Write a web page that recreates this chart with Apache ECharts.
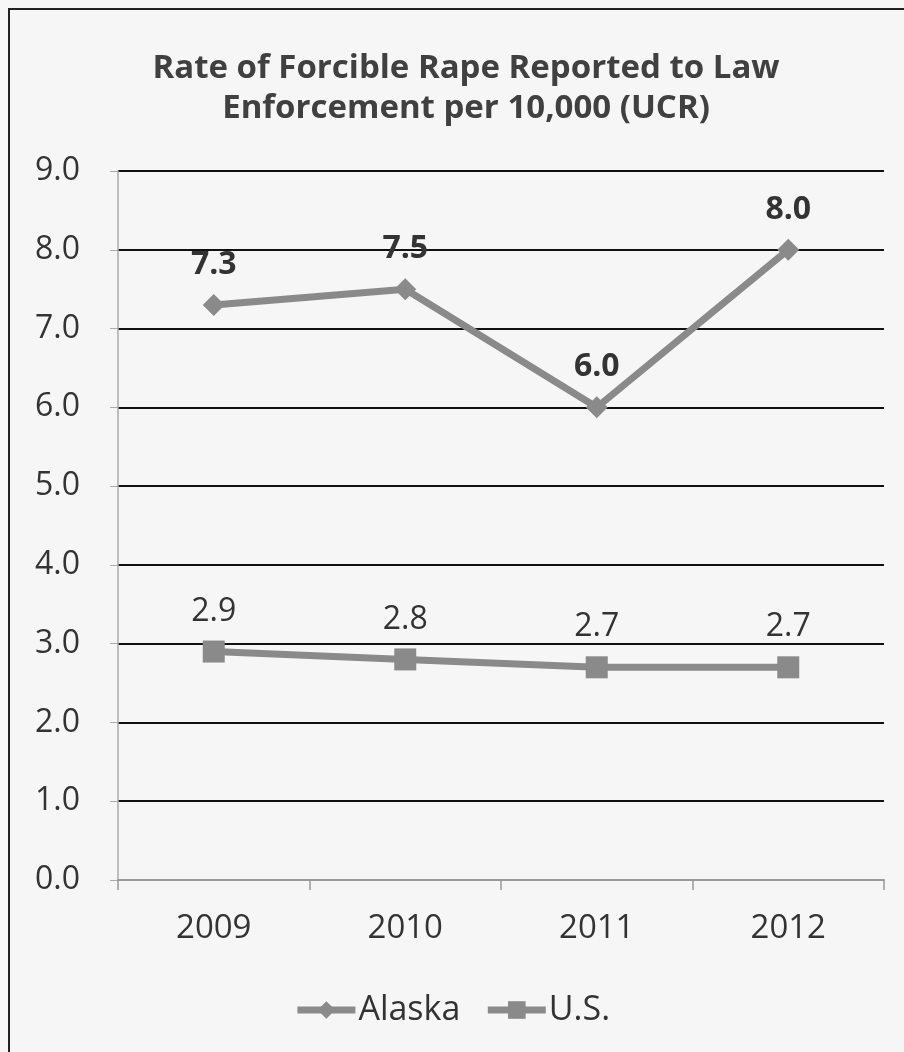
<!DOCTYPE html>
<html><head><meta charset="utf-8">
<script src="https://cdn.jsdelivr.net/npm/echarts@6/dist/echarts.min.js"></script>
<style>html,body{margin:0;padding:0;background:#f6f6f6;}#c{width:904px;height:1052px;}</style>
</head><body><div id="c"></div>
<script>
const titleText = 'Rate of Forcible Rape Reported to Law\nEnforcement per 10,000 (UCR)';
const categories = ['2009', '2010', '2011', '2012'];
const alaska = [7.3, 7.5, 6.0, 8.0];
const us = [2.9, 2.8, 2.7, 2.7];
const yMin = 0, yMax = 9, yInterval = 1;

const font = '"Open Sans", Lato, sans-serif';
const chart = echarts.init(document.getElementById('c'));
chart.setOption({
  backgroundColor: '#f6f6f6',
  animation: false,
  title: {
    text: titleText, left: 461, textAlign: 'center', top: 44,
    textStyle: { fontFamily: font, fontSize: 33, fontWeight: 'bold', color: '#404040', lineHeight: 40 }
  },
  graphic: [{
    type: 'rect', shape: { x: 9, y: 9, width: 1000, height: 1100 },
    style: { fill: 'none', stroke: '#222', lineWidth: 2 }, silent: true
  }],
  legend: {
    top: 988, left: 'center', itemWidth: 58, itemHeight: 22, itemGap: 24,
    lineStyle: { width: 7, color: '#8a8a8a' },
    textStyle: { fontFamily: font, fontSize: 34, color: '#333', padding: [0, 0, 0, -2] },
    data: ['Alaska', 'U.S.']
  },
  grid: { left: 118, right: 20, top: 171, bottom: 172, containLabel: false },
  xAxis: {
    type: 'category', data: categories, boundaryGap: true,
    axisLine: { lineStyle: { color: '#999', width: 2 } },
    axisTick: { show: true, length: 10, lineStyle: { color: '#999', width: 1.5 } },
    axisLabel: { fontFamily: font, fontSize: 33, color: '#333', margin: 32 }
  },
  yAxis: {
    type: 'value', min: yMin, max: yMax, interval: yInterval,
    axisLine: { show: true, lineStyle: { color: '#aaa', width: 1.5 } },
    axisTick: { show: true, length: 8, lineStyle: { color: '#aaa' } },
    axisLabel: { fontFamily: font, fontSize: 32, color: '#333', margin: 38, formatter: v => v.toFixed(1) },
    splitLine: { lineStyle: { color: '#111', width: 2 } }
  },
  series: [{
    name: 'Alaska', type: 'line', data: alaska,
    symbol: 'diamond', symbolSize: 22,
    lineStyle: { color: '#8a8a8a', width: 7 },
    itemStyle: { color: '#8a8a8a' },
    label: { show: true, position: 'top', distance: 13, fontFamily: font, fontSize: 32, fontWeight: 'bold', color: '#333', formatter: p => p.value.toFixed(1) }
  }, {
    name: 'U.S.', type: 'line', data: us,
    symbol: 'rect', symbolSize: 22,
    lineStyle: { color: '#8a8a8a', width: 7 },
    itemStyle: { color: '#8a8a8a' },
    label: { show: true, position: 'top', distance: 13, fontFamily: font, fontSize: 32, color: '#333', formatter: p => p.value.toFixed(1) }
  }]
});
</script></body></html>
